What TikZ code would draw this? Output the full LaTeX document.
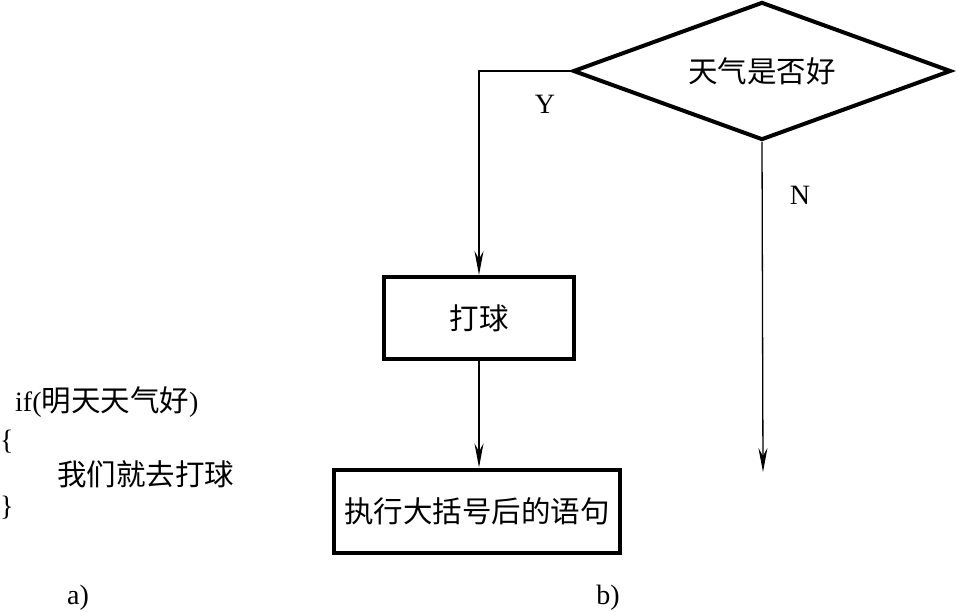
\documentclass[tikz,border=0pt]{standalone}
\usepackage{fontspec}
\setmainfont{Liberation Serif}
\newfontfamily\cjk{Noto Sans CJK SC}
\usetikzlibrary{shapes.geometric,arrows.meta}
\begin{document}
\begin{tikzpicture}[x=1bp,y=-1bp,
  txt/.style={font=\fontsize{28bp}{34bp}\selectfont, inner sep=0pt},
  cjkfont/.style={font=\fontsize{29.5bp}{34bp}\selectfont\cjk},
  box/.style={draw, line width=4bp, rectangle, inner sep=0pt, cjkfont},
  dec/.style={draw, line width=4bp, diamond, inner sep=0pt, shape aspect=2.73, minimum width=378bp, minimum height=138bp, cjkfont},
  conn/.style={line width=1.3bp, -{Stealth[length=24bp,width=9bp,inset=8bp]}},
  plain/.style={line width=1.3bp}]
\useasboundingbox (0,0) rectangle (959,612);
% a) code
\node[txt, anchor=west] (c1) at (15,402) {if({\fontsize{29.5bp}{34bp}\selectfont\cjk 明天天气好})};
\node[txt, anchor=west] (c2) at (0,442) {\{};
\node[txt, cjkfont, anchor=west] (c3) at (57,474) {我们就去打球};
\node[txt, anchor=west] (c4) at (0,508) {\}};
\node[txt] (la) at (78,598) {a)};
% b) flowchart
\node[dec] (dia) at (762,71) {天气是否好};
\node[box, minimum width=190bp, minimum height=82bp] (b1) at (479,318) {打球};
\node[box, minimum width=286bp, minimum height=83bp] (b2) at (477,511) {执行大括号后的语句};
\coordinate (nend) at (763,472);
\draw[conn] (dia.west) -| (b1.north);
\draw[conn] (b1.south) -- (b1.south |- b2.north);
\draw[conn] (dia.south) -- (nend);
\node[txt] (ly) at (545,104) {Y};
\node[txt] (ln) at (800,195) {N};
\node[txt] (lb) at (608,598) {b)};
\end{tikzpicture}
\end{document}
